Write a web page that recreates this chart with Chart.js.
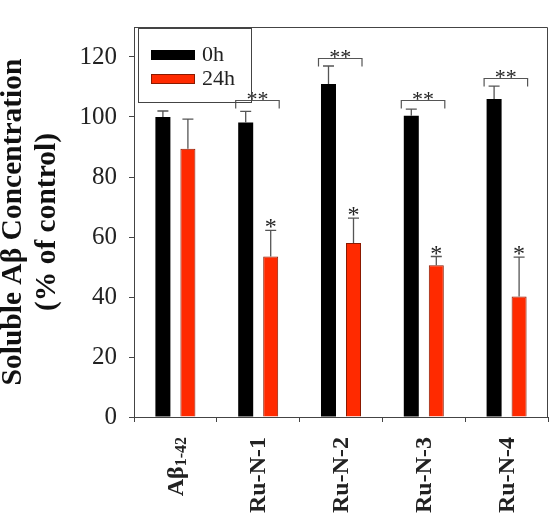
<!DOCTYPE html>
<html lang="en">
<head>
  <meta charset="UTF-8">
  <title>Soluble Aβ Concentration</title>
  <script src="https://cdn.jsdelivr.net/npm/chart.js"></script>
  <style>
    body { margin: 0; background: #fff; }
    canvas { display: block; }
  </style>
</head>
<body>
  <canvas id="chart" width="551" height="520"></canvas>

  <script>
    // data
    const groups = ['Aβ1-42', 'Ru-N-1', 'Ru-N-2', 'Ru-N-3', 'Ru-N-4'];
    const series = ['0h', '24h'];
    const values0h = [100, 98.2, 111, 100.4, 106];
    const err0h = [2, 3.7, 6, 2.2, 4.3];
    const values24h = [89.4, 53.5, 58, 50.6, 40.2];
    const err24h = [9.9, 8.7, 8.3, 2.9, 13.1];
    const bracketLevel = [null, 105.8, 119.7, 105.8, 113]; // "**" brackets 0h vs 24h
    const bracketMark = ['', '**', '**', '**', '**'];
    const redMark = ['', '*', '*', '*', '*'];
    const yTicks = [0, 20, 40, 60, 80, 100, 120];

    const serif = '"Liberation Serif", "Times New Roman", serif';
    const lineCol = '#444';

    // frame, error bars, brackets, legend, x labels
    const extras = {
      id: 'extras',
      afterDatasetsDraw(chart) {
        const ctx = chart.ctx;
        const y = chart.scales.y;
        const errs = [err0h, err24h];
        ctx.save();
        ctx.strokeStyle = '#555';
        ctx.lineWidth = 1.3;
        chart.data.datasets.forEach((ds, i) => {
          chart.getDatasetMeta(i).data.forEach((bar, j) => {
            const top = y.getPixelForValue(ds.data[j] + errs[i][j]);
            const base = y.getPixelForValue(ds.data[j]);
            ctx.beginPath();
            ctx.moveTo(bar.x, base);
            ctx.lineTo(bar.x, top);
            ctx.moveTo(bar.x - 5.5, top);
            ctx.lineTo(bar.x + 5.5, top);
            ctx.stroke();
          });
        });
        ctx.restore();
      },
      afterDraw(chart) {
        const ctx = chart.ctx;
        const a = chart.chartArea;
        const x = chart.scales.x;
        const y = chart.scales.y;
        ctx.save();

        // top and right frame
        ctx.strokeStyle = lineCol;
        ctx.lineWidth = 1;
        ctx.beginPath();
        ctx.moveTo(a.left, a.top + 0.5);
        ctx.lineTo(a.right - 0.5, a.top + 0.5);
        ctx.lineTo(a.right - 0.5, a.bottom);
        ctx.stroke();

        // significance brackets
        const m0 = chart.getDatasetMeta(0).data;
        const m1 = chart.getDatasetMeta(1).data;
        ctx.fillStyle = '#222';
        ctx.textAlign = 'center';
        ctx.textBaseline = 'alphabetic';
        groups.forEach((g, j) => {
          if (bracketLevel[j] == null) return;
          const by = Math.round(y.getPixelForValue(bracketLevel[j])) + 0.5;
          const x0 = m0[j].x - 10;
          const x1 = m1[j].x + 8.5;
          ctx.strokeStyle = '#555';
          ctx.lineWidth = 1.2;
          ctx.beginPath();
          ctx.moveTo(x0, by + 8);
          ctx.lineTo(x0, by);
          ctx.lineTo(x1, by);
          ctx.lineTo(x1, by + 8);
          ctx.stroke();
          ctx.font = '22px ' + serif;
          ctx.fillText(bracketMark[j], (x0 + x1) / 2, by + 5);
          // single star above the 24h error bar
          const ty = y.getPixelForValue(values24h[j] + err24h[j]);
          ctx.font = '24px ' + serif;
          ctx.fillText(redMark[j], m1[j].x, ty + 4);
        });

        // legend
        const lx = a.left + 4, ly = a.top + 1;
        ctx.strokeStyle = lineCol;
        ctx.lineWidth = 1;
        ctx.strokeRect(lx + 0.5, ly + 0.5, 113, 74);
        ctx.fillStyle = '#000';
        ctx.fillRect(lx + 13, ly + 22, 44, 10);
        ctx.fillStyle = '#ff2a00';
        ctx.fillRect(lx + 13, ly + 46, 44, 10);
        ctx.strokeStyle = '#8a1a00';
        ctx.strokeRect(lx + 13.5, ly + 46.5, 43, 9);
        ctx.fillStyle = '#222';
        ctx.font = '22px ' + serif;
        ctx.textAlign = 'left';
        ctx.textBaseline = 'middle';
        ctx.fillText(series[0], lx + 64, ly + 27);
        ctx.fillText(series[1], lx + 64, ly + 51);

        // x labels, rotated, with the subscript on the first one
        groups.forEach((g, j) => {
          const cx = x.getPixelForValue(j);
          ctx.save();
          ctx.translate(cx + 1, a.bottom + 20);
          ctx.rotate(-Math.PI / 2);
          ctx.fillStyle = '#222';
          ctx.textBaseline = 'middle';
          ctx.textAlign = 'right';
          if (j === 0) {
            ctx.font = 'bold 16px ' + serif;
            const sub = '1-42';
            const sw = ctx.measureText(sub).width;
            ctx.fillText(sub, 0, 5);
            ctx.font = 'bold 24px ' + serif;
            ctx.fillText('Aβ', -sw, 0);
          } else {
            ctx.font = 'bold 24px ' + serif;
            ctx.fillText(g, 0, 0);
          }
          ctx.restore();
        });
        ctx.restore();
      }
    };

    new Chart(document.getElementById('chart'), {
      type: 'bar',
      data: {
        labels: groups,
        datasets: [
          { label: series[0], data: values0h, backgroundColor: '#000', borderColor: '#000', borderWidth: 0 },
          { label: series[1], data: values24h, backgroundColor: '#ff2a00', borderColor: '#8a1a00', borderWidth: 1 }
        ]
      },
      options: {
        responsive: false,
        animation: false,
        categoryPercentage: 0.604,
        barPercentage: 0.6,
        layout: { padding: { top: 4, right: 3, left: 0, bottom: 0 } },
        plugins: { legend: { display: false }, tooltip: { enabled: false } },
        scales: {
          x: {
            afterFit: s => { s.height = 103; },
            grid: { display: true, drawOnChartArea: false, tickLength: 5, color: lineCol },
            border: { display: true, color: lineCol },
            ticks: { display: false }
          },
          y: {
            min: 0,
            max: 130,
            afterFit: s => { s.width = 134; },
            afterBuildTicks: s => { s.ticks = yTicks.map(v => ({ value: v })); },
            grid: { display: true, drawOnChartArea: false, tickLength: 5, color: lineCol },
            border: { display: true, color: lineCol },
            ticks: { padding: 12, color: '#222', font: { family: serif, size: 25 } },
            title: {
              display: true,
              text: ['Soluble Aβ Concentration', '(% of control)'],
              color: '#111',
              font: { family: serif, size: 29.5, weight: 'bold', lineHeight: 1.15 },
              padding: { top: -4, bottom: 0 }
            }
          }
        }
      },
      plugins: [extras]
    });
  </script>
</body>
</html>
